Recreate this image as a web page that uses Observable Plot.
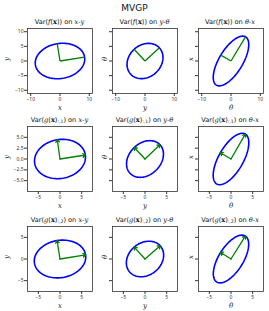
<!DOCTYPE html>
<html><head><meta charset="utf-8">
<script src="https://cdn.jsdelivr.net/npm/d3@7"></script>
<script src="https://cdn.jsdelivr.net/npm/@observablehq/plot@0.6"></script>
<style>
body{margin:0;background:#fff;}
#wrap{position:relative;width:269px;height:311px;overflow:hidden;font-family:"DejaVu Sans",sans-serif;background:#fff;}
#wrap svg{position:absolute;}
.ttl{position:absolute;white-space:nowrap;transform:translate(-50%,-50%);font-size:6.6px;color:#111;line-height:1;}
.main{position:absolute;left:134.5px;top:7.5px;transform:translate(-50%,-50%);font-size:9px;color:#111;white-space:nowrap;}
.m{font-family:"DejaVu Serif",serif;font-style:italic;}
.ttl b{font-family:"DejaVu Serif",serif;font-weight:bold;}
.ttl sub{font-size:70%;vertical-align:-0.25em;line-height:0;}
</style></head>
<body><div id="wrap"></div>
<script>
// ---- data ----
const mainTitle = "MVGP";
const rowFuncs = ["f", "g", "g"];
const rowSubs = ["", ":,1", ":,2"];
const pairNames = [["x", "y"], ["y", "θ"], ["θ", "x"]];
const rowLimits = [11.1, 7.5, 7.5];
const rowXTicks = [[-10, 0, 10], [-5, 0, 5], [-5, 0, 5]];
const rowXTickLabels = [["−10", "0", "10"], ["−5", "0", "5"], ["−5", "0", "5"]];
const rowYTicks = [[-10, -5, 0, 5, 10], [-5, -2.5, 0, 2.5, 5], [-5, 0, 5]];
const rowYTickLabels = [["−10", "−5", "0", "5", "10"], ["−5.0", "−2.5", "0.0", "2.5", "5.0"], ["−5", "0", "5"]];
// principal semi-axis vectors of each covariance ellipse (row-major panels)
const axis1X = [8.4, 4.9, 4.95, 5.85, 3.45, 3.3, 5.9, 3.5, 3.3];
const axis1Y = [1.35, 4.5, 8.25, 0.92, 3.3, 5.75, 0.97, 3.05, 5.3];
const axis2X = [-0.95, -3.7, -3.5, -0.62, -2.5, -2.45, -0.68, -2.5, -2.4];
const axis2Y = [5.9, 4.0, 2.0, 4.45, 2.65, 1.45, 4.25, 2.75, 1.5];
const rowArrowHeads = [false, true, true];

// ---- layout ----
const frameLeft = [27, 112, 197.5];
const frameTop = [28, 126, 226];
const frameSize = 65;

const wrap = document.getElementById("wrap");
const mt = document.createElement("div");
mt.className = "main"; mt.textContent = mainTitle; wrap.appendChild(mt);

for (let r = 0; r < 3; r++) {
  for (let c = 0; c < 3; c++) {
    const i = r * 3 + c;
    const L = rowLimits[r];
    const ts = d3.range(0, 121).map(k => k / 120 * 2 * Math.PI);
    const ell = ts.map(t => ({
      x: axis1X[i] * Math.cos(t) + axis2X[i] * Math.sin(t),
      y: axis1Y[i] * Math.cos(t) + axis2Y[i] * Math.sin(t)
    }));
    const arrows = [
      {x1: 0, y1: 0, x2: axis1X[i], y2: axis1Y[i]},
      {x1: 0, y1: 0, x2: axis2X[i], y2: axis2Y[i]}
    ];
    const xMap = new Map(rowXTicks[r].map((d, k) => [d, rowXTickLabels[r][k]]));
    const yMap = new Map(rowYTicks[r].map((d, k) => [d, rowYTickLabels[r][k]]));
    const ml = c === 0 ? 27 : 12, mr = 4, mtop = 3, mb = 21;
    const arrowMark = rowArrowHeads[r]
      ? Plot.arrow(arrows, {x1: "x1", y1: "y1", x2: "x2", y2: "y2", stroke: "#008000", strokeWidth: 1.3, headLength: 3.5, headAngle: 75})
      : Plot.link(arrows, {x1: "x1", y1: "y1", x2: "x2", y2: "y2", stroke: "#008000", strokeWidth: 1.3});
    const svg = Plot.plot({
      width: ml + frameSize + mr, height: mtop + frameSize + mb,
      marginLeft: ml, marginRight: mr, marginTop: mtop, marginBottom: mb,
      x: {domain: [-L, L]}, y: {domain: [-L, L]},
      style: {background: "transparent", overflow: "visible"},
      marks: [
        Plot.line(ell, {x: "x", y: "y", stroke: "#0000ff", strokeWidth: 1.6}),
        arrowMark,
        Plot.frame({stroke: "#333", strokeWidth: 0.8}),
        Plot.axisX(rowXTicks[r], {tickSize: 3, tickPadding: 1, fontSize: 5, color: "#333", tickFormat: d => xMap.get(d), label: null}),
        Plot.axisY(rowYTicks[r], {tickSize: 3, tickPadding: 1, fontSize: 5, color: "#333", tickFormat: c === 0 ? (d => yMap.get(d)) : (() => ""), label: null}),
        Plot.text([pairNames[c][0]], {text: d => d, frameAnchor: "bottom", dy: 16, fontSize: 7, fontStyle: "italic", fontFamily: "DejaVu Serif", fill: "#222"}),
        Plot.text([pairNames[c][1]], {text: d => d, frameAnchor: "left", dx: c === 0 ? -21 : -8, rotate: -90, fontSize: 7, fontStyle: "italic", fontFamily: "DejaVu Serif", fill: "#222"})
      ]
    });
    svg.style.left = (frameLeft[c] - ml) + "px";
    svg.style.top = (frameTop[r] - mtop) + "px";
    wrap.appendChild(svg);

    const t = document.createElement("div");
    t.className = "ttl";
    t.style.left = (frameLeft[c] + frameSize / 2) + "px";
    t.style.top = (frameTop[r] - 6.5) + "px";
    const sub = rowSubs[r] ? `<sub>${rowSubs[r]}</sub>` : "";
    t.innerHTML = `Var(<span class="m">${rowFuncs[r]}</span>(<b>x</b>)${sub}) on <span class="m">${pairNames[c][0]}</span>-<span class="m">${pairNames[c][1]}</span>`;
    wrap.appendChild(t);
  }
}
</script></body></html>
